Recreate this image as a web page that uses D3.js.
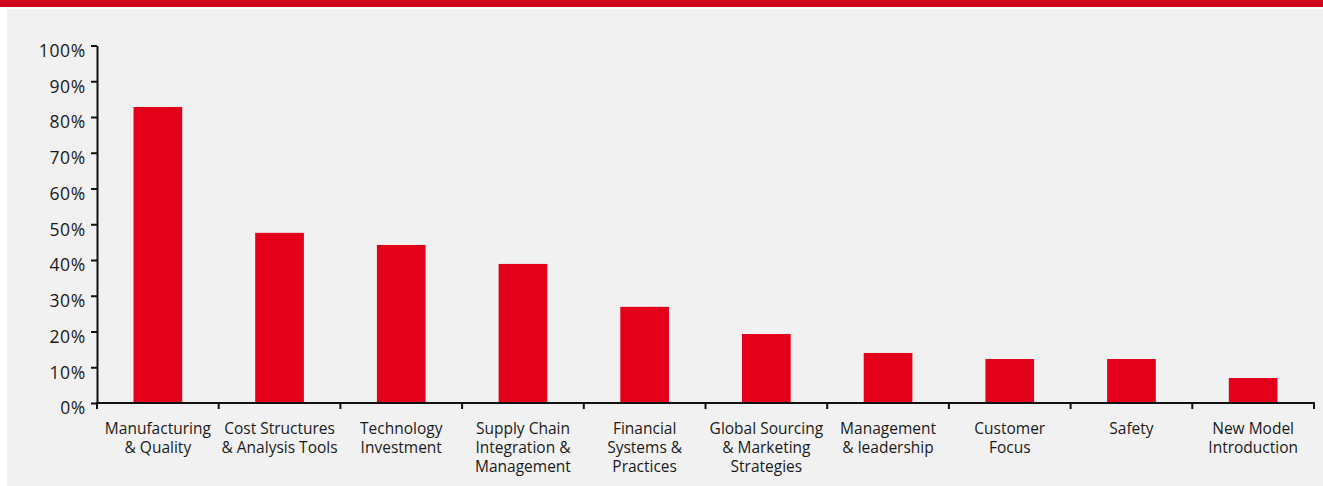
<!DOCTYPE html>
<html>
<head>
<meta charset="utf-8">
<script src="https://cdn.jsdelivr.net/npm/d3@7"></script>
<style>
  html, body { margin: 0; padding: 0; background: #ffffff; }
  svg { display: block; }
  text { font-family: "Open Sans", "Noto Sans", sans-serif; fill: #1a1a1a; }
</style>
</head>
<body>
<svg id="chart" width="1323" height="486"></svg>
<script>
// Focus areas, share of respondents (%)
const categories = [
  "Manufacturing & Quality",
  "Cost Structures & Analysis Tools",
  "Technology Investment",
  "Supply Chain Integration & Management",
  "Financial Systems & Practices",
  "Global Sourcing & Marketing Strategies",
  "Management & leadership",
  "Customer Focus",
  "Safety",
  "New Model Introduction"
];
const categoryLines = [
  ["Manufacturing", "& Quality"],
  ["Cost Structures", "& Analysis Tools"],
  ["Technology", "Investment"],
  ["Supply Chain", "Integration &", "Management"],
  ["Financial", "Systems &", "Practices"],
  ["Global Sourcing", "& Marketing", "Strategies"],
  ["Management", "& leadership"],
  ["Customer", "Focus"],
  ["Safety"],
  ["New Model", "Introduction"]
];
const values = [82.8, 47.6, 44.2, 38.9, 26.9, 19.3, 14.0, 12.3, 12.3, 7.0];
const yTicks = [0, 10, 20, 30, 40, 50, 60, 70, 80, 90, 100];

const svg = d3.select("#chart");
const W = 1323, H = 486;

// header band and panel background
svg.append("rect").attr("x", 0).attr("y", 0).attr("width", W).attr("height", 7).attr("fill", "#d0061f");
svg.append("rect").attr("x", 7).attr("y", 9).attr("width", W - 7).attr("height", H - 9).attr("fill", "#f1f1f1");

const x = d3.scaleBand().domain(categories).range([97, 1314]).paddingInner(0).paddingOuter(0);
const y = d3.scaleLinear().domain([0, 100]).range([403, 45.5]);

// bars
const bw = x.bandwidth();
svg.append("g").selectAll("rect")
  .data(categories)
  .join("rect")
  .attr("x", (c) => x(c) + bw * 0.3)
  .attr("width", bw * 0.4)
  .attr("y", (c, i) => y(values[i]))
  .attr("height", (c, i) => y(0) - y(values[i]))
  .attr("fill", "#e2001a");

// y axis
const yAxis = svg.append("g")
  .attr("transform", `translate(${x.range()[0]},0)`)
  .call(d3.axisLeft(y).tickValues(yTicks).tickFormat((d) => d + "%").tickSize(6).tickPadding(5).tickSizeOuter(0));
yAxis.select(".domain").attr("stroke", "#111").attr("stroke-width", 2);
yAxis.selectAll(".tick line").attr("stroke", "#111").attr("stroke-width", 2);
yAxis.selectAll(".tick text")
  .attr("font-family", "'Open Sans', sans-serif")
  .attr("font-size", 17.5)
  .attr("letter-spacing", 0.7)
  .attr("fill", "#1a1a1a")
  .attr("dy", "0.62em");

// x axis: baseline with ticks on band boundaries
const xg = svg.append("g");
const x0 = x.range()[0], x1 = x.range()[1];
xg.append("line")
  .attr("x1", x0 - 1).attr("x2", x1 + 1)
  .attr("y1", y(0)).attr("y2", y(0))
  .attr("stroke", "#111").attr("stroke-width", 2);
const bounds = categories.map((c) => x(c)).concat([x1]);
xg.selectAll("line.tk")
  .data(bounds)
  .join("line")
  .attr("class", "tk")
  .attr("x1", (d) => d).attr("x2", (d) => d)
  .attr("y1", y(0)).attr("y2", y(0) + 6)
  .attr("stroke", "#111").attr("stroke-width", 2);

// category labels, one text element per line
const labelRows = categories.flatMap((c, i) =>
  categoryLines[i].map((line, j) => ({ c, line, j })));
xg.selectAll("text.cat")
  .data(labelRows)
  .join("text")
  .attr("class", "cat")
  .attr("text-anchor", "middle")
  .attr("font-size", 15.5)
  .attr("x", (d) => x(d.c) + bw / 2)
  .attr("y", (d) => 434 + d.j * 19)
  .text((d) => d.line);
</script>
</body>
</html>
